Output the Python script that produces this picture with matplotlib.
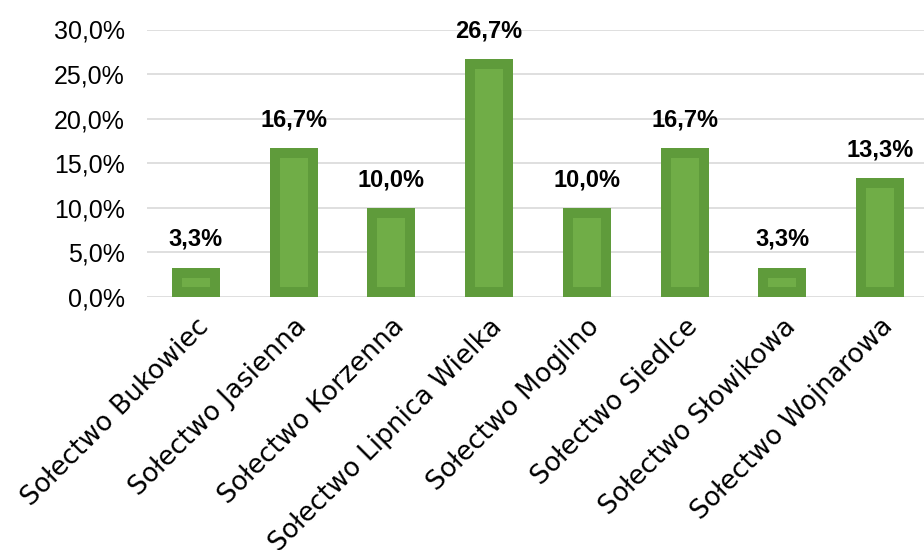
import matplotlib.pyplot as plt
from matplotlib.ticker import FuncFormatter

categories = ["Sołectwo Bukowiec", "Sołectwo Jasienna", "Sołectwo Korzenna",
              "Sołectwo Lipnica Wielka", "Sołectwo Mogilno", "Sołectwo Siedlce",
              "Sołectwo Słowikowa", "Sołectwo Wojnarowa"]
values = [3.3, 16.7, 10.0, 26.7, 10.0, 16.7, 3.3, 13.3]
yticks = [0, 5, 10, 15, 20, 25, 30]

outer_color = "#5f9b3b"
inner_color = "#70ad47"

fig = plt.figure(figsize=(9.24, 5.5), dpi=100)
ax = fig.add_axes([147/924, 253/550, 782/924, 267.5/550])

x = list(range(len(categories)))
ax.bar(x, values, width=0.49, color=outer_color, zorder=3)
inset = 1.12
inner_h = [max(v - 2*inset, 0) for v in values]
ax.bar(x, inner_h, bottom=inset, width=0.285, color=inner_color, zorder=4)

for xi, v in zip(x, values):
    ax.annotate(f"{v:.1f}%".replace(".", ","), (xi, v), xytext=(0, 12),
                textcoords="offset points", ha="center", va="bottom",
                fontsize=17, fontweight="bold", family="Liberation Sans", zorder=5)

ax.set_xlim(-0.5, 7.5)
ax.set_ylim(0, 30)
ax.set_yticks(yticks)
ax.yaxis.set_major_formatter(FuncFormatter(lambda v, p: f"{v:.1f}%".replace(".", ",")))
ax.grid(axis="y", color="#d9d9d9", linewidth=1.2, zorder=0)
for s in ax.spines.values():
    s.set_visible(False)
ax.tick_params(axis="y", length=0, pad=16, labelsize=18)
for lab in ax.get_yticklabels():
    lab.set_family("Liberation Sans")
ax.set_xticks(x)
ax.set_xticklabels(categories, rotation=45, ha="right", rotation_mode="anchor",
                   fontsize=19, family="DejaVu Sans")
ax.tick_params(axis="x", length=0, pad=12)

fig.savefig("out.png", dpi=100)
